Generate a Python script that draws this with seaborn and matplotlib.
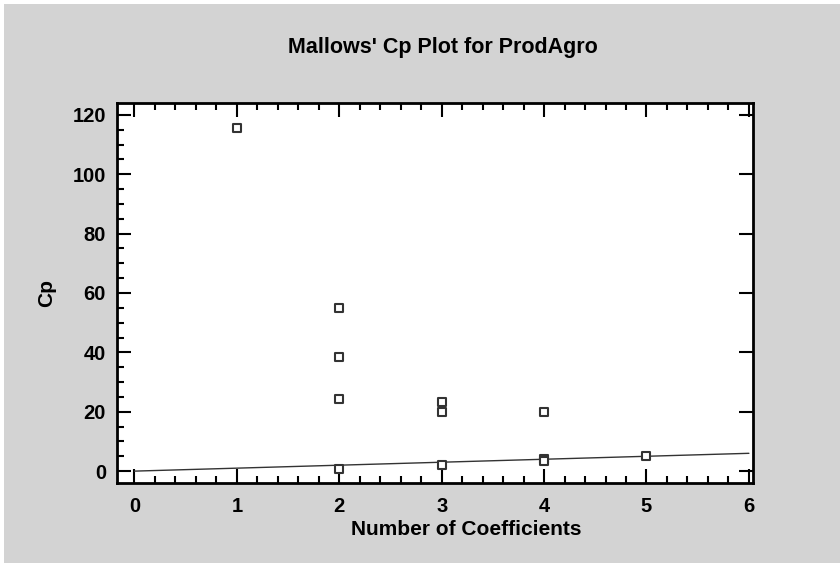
import numpy as np
import pandas as pd
import seaborn as sns
import matplotlib.pyplot as plt
from matplotlib.patches import Rectangle
from matplotlib.ticker import MultipleLocator

n_coef = [1, 2, 2, 2, 2, 3, 3, 3, 4, 4, 4, 5]
cp_vals = [115.6, 55.1, 38.3, 24.3, 0.6, 23.2, 19.9, 2.0, 20.0, 4.0, 3.3, 5.0]
ref_x = [0, 6]
ref_y = [0, 6]

data = pd.DataFrame({'Number of Coefficients': n_coef, 'Cp': cp_vals})

sns.set_style('ticks')
plt.rcParams['font.family'] = ['Liberation Sans', 'DejaVu Sans']
plt.rcParams['font.weight'] = 'bold'
plt.rcParams['text.color'] = 'black'
plt.rcParams['axes.labelcolor'] = 'black'
plt.rcParams['xtick.color'] = 'black'
plt.rcParams['ytick.color'] = 'black'

fig = plt.figure(figsize=(8.4, 5.63), dpi=100, facecolor='white')
fig.patches.append(Rectangle((4 / 840, 0), 1, 1 - 4 / 563, transform=fig.transFigure,
                             facecolor='#d3d3d3', edgecolor='none', zorder=-1))
ax = fig.add_axes([117 / 840, 1 - 483 / 563, 636 / 840, 380 / 563])
ax.set_facecolor('white')

sns.lineplot(x=ref_x, y=ref_y, ax=ax, color='#333333', linewidth=1.0)
sns.scatterplot(data=data, x='Number of Coefficients', y='Cp', ax=ax, marker='s',
                s=40, facecolor='white', edgecolor='#333333', linewidth=1.5, zorder=3)

ax.set_xlim(-0.17, 6.04)
ax.set_ylim(-4, 124)
ax.xaxis.set_major_locator(MultipleLocator(1))
ax.xaxis.set_minor_locator(MultipleLocator(0.2))
ax.yaxis.set_major_locator(MultipleLocator(20))
ax.yaxis.set_minor_locator(MultipleLocator(5))
ax.tick_params(which='both', direction='in', top=True, right=True,
               labelsize=14.5, width=1.5, color='black', labelcolor='black')
ax.tick_params(axis='x', pad=10)
ax.tick_params(axis='y', pad=8)
ax.tick_params(which='major', length=10)
ax.tick_params(which='minor', length=5)
ax.tick_params(axis='y', which='minor', right=False)
for s in ax.spines.values():
    s.set_linewidth(2)
    s.set_color('black')

ax.set_xlabel('Number of Coefficients', fontsize=15, fontweight='bold')
ax.xaxis.set_label_coords((466 - 117) / 636, -0.097)
ax.set_ylabel('Cp', fontsize=15, fontweight='bold', labelpad=12)
fig.text(443 / 840, 1 - 48 / 563, "Mallows' Cp Plot for ProdAgro", ha='center', va='center',
         fontsize=15.5, fontweight='bold')

fig.savefig('out.png', dpi=100, facecolor=fig.get_facecolor())
